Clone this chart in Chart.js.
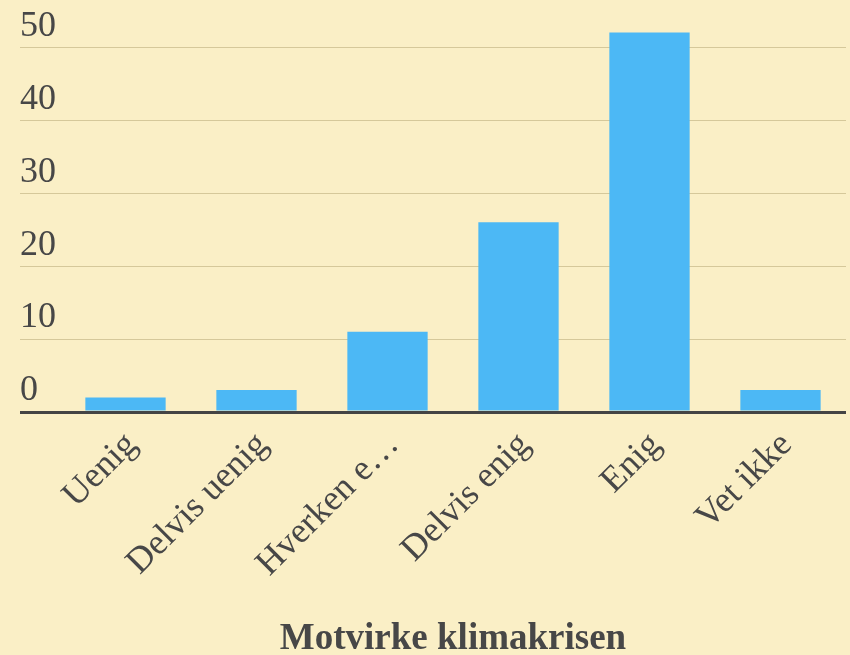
<!DOCTYPE html>
<html>
<head>
<meta charset="utf-8">
<script src="https://cdn.jsdelivr.net/npm/chart.js@4/dist/chart.umd.min.js"></script>
<style>
  html, body { margin: 0; padding: 0; background: #FAEFC6; }
  #wrap { width: 850px; height: 655px; position: relative; }
</style>
</head>
<body>
<div id="wrap"><canvas id="c"></canvas></div>
<script>
const categories = ["Uenig", "Delvis uenig", "Hverken e…", "Delvis enig", "Enig", "Vet ikke"];
const values = [2, 3, 11, 26, 52, 3];
const yTicks = [0, 10, 20, 30, 40, 50];
const axisTitle = "Motvirke klimakrisen";

const FONT = "'Liberation Serif', 'Times New Roman', serif";
const TEXT = "#474747";

new Chart(document.getElementById('c'), {
  type: 'bar',
  data: {
    labels: categories,
    datasets: [{
      data: values,
      backgroundColor: '#4CB8F5',
      borderWidth: 0,
      barPercentage: 0.613,
      categoryPercentage: 1
    }]
  },
  options: {
    responsive: true,
    maintainAspectRatio: false,
    animation: false,
    layout: { padding: { left: 20, right: 4, top: 0, bottom: 0 } },
    plugins: { legend: { display: false }, tooltip: { enabled: false } },
    scales: {
      y: {
        min: 0,
        max: 53.5,
        border: { display: false },
        grid: {
          color: (ctx) => ctx.tick && ctx.tick.value === 0 ? '#444444' : 'rgba(120,100,40,0.28)',
          lineWidth: (ctx) => ctx.tick && ctx.tick.value === 0 ? 3 : 1,
          tickLength: 40,
          drawTicks: true
        },
        ticks: {
          crossAlign: 'far',
          labelOffset: -21,
          padding: 0,
          color: TEXT,
          font: { family: FONT, size: 36 }
        },
        afterBuildTicks: (scale) => { scale.ticks = yTicks.map(v => ({ value: v })); },
        afterFit: (scale) => { scale.width = 40; }
      },
      x: {
        border: { display: false },
        grid: { display: false },
        ticks: {
          autoSkip: false,
          minRotation: 45,
          maxRotation: 45,
          padding: 4,
          labelOffset: 6,
          color: TEXT,
          font: { family: FONT, size: 36 }
        },
        title: {
          display: true,
          text: axisTitle,
          color: TEXT,
          padding: { top: 0, bottom: 0 },
          font: { family: FONT, size: 37, weight: 'bold', lineHeight: 0.85 }
        },
        afterFit: (scale) => { scale.height = 243; }
      }
    }
  }
});
</script>
</body>
</html>
